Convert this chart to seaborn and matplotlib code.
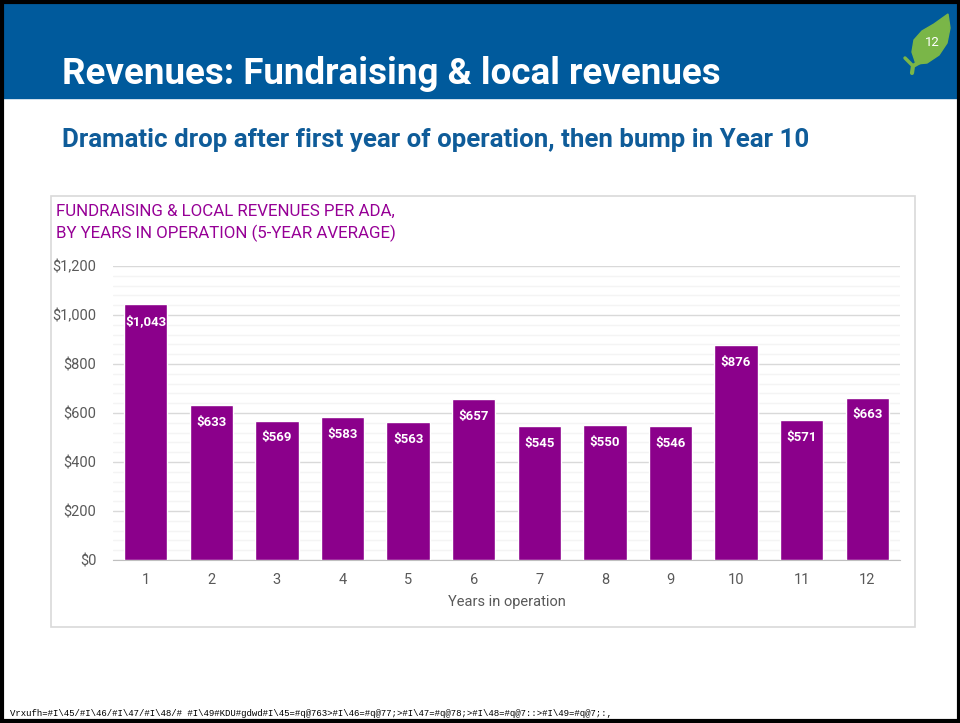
import matplotlib
matplotlib.use('Agg')
import matplotlib.pyplot as plt
import seaborn as sns
import numpy as np
from matplotlib.patches import Rectangle, Polygon
from matplotlib.ticker import MultipleLocator, FuncFormatter

# data
years = ['1', '2', '3', '4', '5', '6', '7', '8', '9', '10', '11', '12']
revenues = [1043, 633, 569, 583, 563, 657, 545, 550, 546, 876, 571, 663]
bar_labels = ['$' + format(v, ',') for v in revenues]

title = 'Revenues: Fundraising & local revenues'
subtitle = 'Dramatic drop after first year of operation, then bump in Year 10'
chart_title = 'FUNDRAISING & LOCAL REVENUES PER ADA,\nBY YEARS IN OPERATION (5-YEAR AVERAGE)'
xlab = 'Years in operation'
footer = 'Vrxufh=#I\\45/#I\\46/#I\\47/#I\\48/# #I\\49#KDU#gdwd#I\\45=#q@763>#I\\46=#q@77;>#I\\47=#q@78;>#I\\48=#q@7::>#I\\49=#q@7;:,'

sns.set_style('white')
plt.rcParams['font.family'] = ['Roboto', 'DejaVu Sans']

purple = '#8B008B'
blue = '#005A9C'
grey = '#595959'

fig = plt.figure(figsize=(9.6, 7.23), dpi=100)

# background / decoration layer in pixel coords
bg = fig.add_axes([0, 0, 1, 1], zorder=0)
bg.set_xlim(0, 960)
bg.set_ylim(723, 0)
bg.axis('off')
bg.add_patch(Rectangle((0, 0), 960, 98, color=blue))
bg.add_patch(Rectangle((51, 196), 864, 431, facecolor='white', edgecolor='#D9D9D9', lw=1.2))
bg.add_patch(Rectangle((1.5, 1.5), 957, 719, fill=False, edgecolor='black', lw=3))

# leaf
leaf = [(916, 64), (912, 52), (914, 40), (922, 31), (934, 24), (948, 14), (950, 28),
        (947, 43), (939, 55), (927, 63)]
bg.add_patch(Polygon(leaf, closed=True, color='#7AB648'))
bg.plot([920, 913, 912], [62, 66, 73], color='#7AB648', lw=3, solid_capstyle='round')
bg.plot([913, 905], [66, 58], color='#7AB648', lw=2.5, solid_capstyle='round')
bg.text(932, 43, '12', color='white', fontsize=9.5, ha='center', va='center')

bg.text(62, 84, title, color='white', fontsize=26.5, fontweight='bold', va='baseline')
bg.text(62, 147, subtitle, color='#0F5C99', fontsize=18.6, fontweight='bold', va='baseline')
bg.text(56, 238, chart_title, color='#960096', fontsize=12.2, va='baseline', linespacing=1.45)
bg.text(10, 716, footer, family='Liberation Mono', fontsize=6.5, color='black', va='baseline')

# chart
ax = fig.add_axes([113 / 960, 163 / 723, 787 / 960, 294 / 723], zorder=1)
ax.patch.set_alpha(0)
sns.barplot(x=years, y=revenues, color=purple, saturation=1, width=0.66, ax=ax, zorder=3)
ax.bar_label(ax.containers[0], labels=bar_labels, padding=-17, color='white',
             fontsize=9.5, fontweight='bold')

ax.set_ylim(0, 1200)
ax.set_xlim(-0.5, 11.5)
ax.yaxis.set_major_locator(MultipleLocator(200))
ax.yaxis.set_minor_locator(MultipleLocator(40))
ax.yaxis.set_major_formatter(FuncFormatter(lambda v, p: '$' + format(int(v), ',')))
ax.grid(axis='y', which='major', color='#D9D9D9', lw=1, zorder=0)
ax.grid(axis='y', which='minor', color='#F4F4F4', lw=1, zorder=0)
ax.set_axisbelow(True)
for s in ['top', 'right', 'left']:
    ax.spines[s].set_visible(False)
ax.spines['bottom'].set_color('#BFBFBF')
ax.tick_params(axis='both', which='both', length=0, labelcolor=grey, labelsize=10.5)
ax.tick_params(axis='y', pad=12)
ax.tick_params(axis='x', pad=9)
ax.set_xlabel(xlab, color=grey, fontsize=10.5, labelpad=6)
ax.set_ylabel('')

fig.savefig('out.png', dpi=100)
